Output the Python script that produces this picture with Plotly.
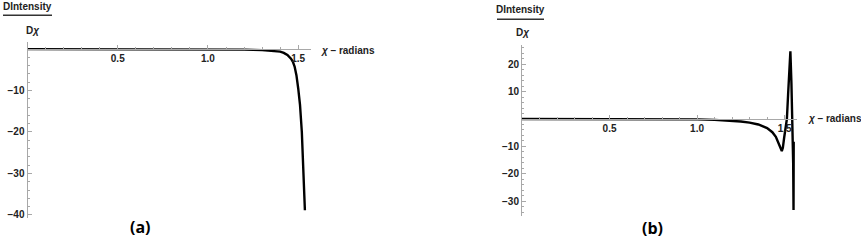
import plotly.graph_objects as go

# Panel (a) data
xa = [0, 0.2, 0.4, 0.6, 0.8, 1.0, 1.1, 1.2, 1.3, 1.35, 1.4, 1.42, 1.44, 1.46, 1.47, 1.48, 1.49, 1.50, 1.51, 1.52, 1.53, 1.537]
ya = [0, 0, 0, 0, -0.01, -0.03, -0.06, -0.12, -0.25, -0.38, -0.6, -0.9, -1.4, -2.3, -3.0, -4.2, -6.3, -9.5, -13.5, -20, -29, -38.9]

# Panel (b) data
xb = [0, 0.5, 0.8, 0.9, 1.0, 1.1, 1.2, 1.25, 1.3, 1.35, 1.4, 1.43, 1.45, 1.465, 1.475, 1.484, 1.49, 1.497, 1.505, 1.513,
      1.52, 1.527, 1.533, 1.539, 1.545, 1.549, 1.551, 1.552]
yb = [0, 0, -0.02, -0.05, -0.12, -0.3, -0.6, -0.9, -1.3, -2.0, -3.3, -4.8, -6.5, -8.5, -10.3, -11.7, -10.5, -7, -3, 0,
      9, 18, 24.7, 13, 0, -16, -33.1, -8.3]

x_ticks = [0.5, 1.0, 1.5]
x_ticktext = ["0.5", "1.0", "1.5"]
ya_ticks = [-10, -20, -30, -40]
yb_ticks = [20, 10, -10, -20, -30]

W, H = 861, 241
def px(x): return x / W
def py(y): return 1 - y / H

AX = "#a8a8a8"
FONT = "Liberation Sans"

fig = go.Figure()
fig.add_trace(go.Scatter(x=xa, y=ya, mode="lines", line=dict(color="black", width=2.4),
                         xaxis="x", yaxis="y", showlegend=False, hoverinfo="skip"))
fig.add_trace(go.Scatter(x=xb, y=yb, mode="lines", line=dict(color="black", width=2.4),
                         xaxis="x2", yaxis="y2", showlegend=False, hoverinfo="skip"))

tickfont = dict(family=FONT, size=10, color="#222", weight="bold")

# panel geometry (pixels)
a_x0, a_x1 = 27.5, 311
a_ytop, a_ybot = 42, 220
a_yr = [-40.8, 1.8]
b_x0, b_x1 = 522, 797
b_ytop, b_ybot = 45, 218
b_yr = [-35.4, 27.1]

def zero_pos(ytop, ybot, yr):
    frac = (0 - yr[0]) / (yr[1] - yr[0])
    d0, d1 = py(ybot), py(ytop)
    return d0 + frac * (d1 - d0)

common_x = dict(range=[0, 1.5708], tickmode="array", tickvals=x_ticks, ticktext=x_ticktext,
                showgrid=False, zeroline=False, showline=True, linecolor=AX, linewidth=1,
                ticks="inside", ticklen=4, tickcolor=AX, tickfont=tickfont,
                minor=dict(tickmode="linear", tick0=0, dtick=0.1, ticks="inside", ticklen=2, tickcolor=AX),
                anchor="free", fixedrange=True)
common_y = dict(showgrid=False, zeroline=False, showline=True, linecolor=AX, linewidth=1,
                ticks="inside", ticklen=4, tickcolor=AX, tickfont=tickfont,
                minor=dict(tickmode="linear", tick0=0, dtick=2, ticks="inside", ticklen=2, tickcolor=AX),
                tickmode="array", fixedrange=True)

fig.update_layout(
    width=W, height=H, margin=dict(l=0, r=0, t=0, b=0),
    paper_bgcolor="white", plot_bgcolor="white",
    xaxis=dict(common_x, domain=[px(a_x0), px(a_x1)], position=zero_pos(a_ytop, a_ybot, a_yr)),
    yaxis=dict(common_y, domain=[py(a_ybot), py(a_ytop)], range=a_yr, tickvals=ya_ticks,
               anchor="x"),
    xaxis2=dict(common_x, domain=[px(b_x0), px(b_x1)], position=zero_pos(b_ytop, b_ybot, b_yr)),
    yaxis2=dict(common_y, domain=[py(b_ybot), py(b_ytop)], range=b_yr, tickvals=yb_ticks,
                anchor="x2"),
)

lab = dict(family=FONT, size=10, color="#222", weight="bold")
ann = []
def add_text(text, x, y, font, xanchor="center"):
    ann.append(dict(text=text, x=px(x), y=py(y), xref="paper", yref="paper", showarrow=False,
                    xanchor=xanchor, yanchor="middle", font=font))

# fraction labels
add_text("DIntensity", 27, 7, lab)
add_text("D<i>χ</i>", 32, 31, lab)
add_text("DIntensity", 520, 10, lab)
add_text("D<i>χ</i>", 522, 33, lab)
# x axis titles
add_text("<i>χ</i> – radians", 319, 50.7, lab, xanchor="left")
add_text("<i>χ</i> – radians", 806, 119.3, lab, xanchor="left")
# panel letters
big = dict(family="Open Sans", size=16, color="black", weight="bold")
add_text("(a)", 140, 229, big)
add_text("(b)", 652, 230, big)
fig.update_layout(annotations=ann)

shapes = [
    dict(type="line", xref="paper", yref="paper", x0=px(3), x1=px(52), y0=py(15.5), y1=py(15.5),
         line=dict(color="#333", width=1.5)),
    dict(type="line", xref="paper", yref="paper", x0=px(497), x1=px(544), y0=py(19.5), y1=py(19.5),
         line=dict(color="#333", width=1.5)),
]
fig.update_layout(shapes=shapes)

fig.write_html("out.html", config={"displayModeBar": False},
               post_script="document.body.style.margin='0';document.body.style.padding='0';")
